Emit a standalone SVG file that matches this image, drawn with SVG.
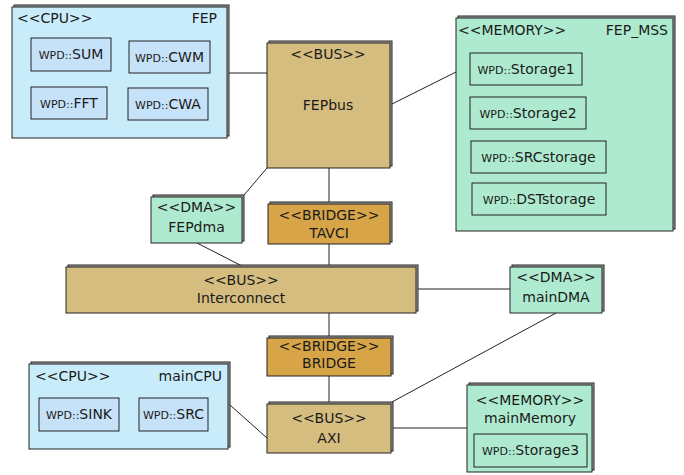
<svg xmlns="http://www.w3.org/2000/svg" width="684" height="475" viewBox="0 0 684 475">
<style>
text{font-family:"DejaVu Sans","Liberation Sans",sans-serif;font-size:14px;fill:#1a1a1a}
.s{font-size:11px}
.back{fill:#a8a8a8;stroke:#222;stroke-width:1}
.cpu{fill:#c9ecfb;stroke:#222;stroke-width:1}
.inner{fill:#c6e2f8;stroke:#222;stroke-width:1}
.bus{fill:#d5bd80;stroke:#222;stroke-width:1}
.bridge{fill:#d7a548;stroke:#222;stroke-width:1}
.mem{fill:#aeeacf;stroke:#222;stroke-width:1}
.mi{fill:#aeeacf;stroke:#222;stroke-width:1}
.c line{stroke:#222;stroke-width:1}
.m{text-anchor:middle}
.e{text-anchor:end}
</style>
<rect width="684" height="475" fill="#fff"/>
<g class="c" id="connectors">
<line x1="229" y1="73" x2="267" y2="73"/>
<line x1="392" y1="104" x2="456" y2="72"/>
<line x1="267" y1="168" x2="244" y2="195"/>
<line x1="329" y1="168" x2="329" y2="202"/>
<line x1="197" y1="243" x2="242" y2="266"/>
<line x1="329" y1="244" x2="329" y2="266"/>
<line x1="418" y1="289" x2="510" y2="289"/>
<line x1="329" y1="313" x2="329" y2="336"/>
<line x1="329" y1="376" x2="329" y2="402"/>
<line x1="556" y1="313" x2="392" y2="402"/>
<line x1="393" y1="428" x2="467" y2="428"/>
<line x1="230" y1="405" x2="267" y2="438"/>
</g>
<g id="FEP">
<rect class="back" x="14" y="5" width="215" height="131"/>
<rect class="cpu" x="12" y="7" width="215" height="131"/>
<text x="17" y="23">&lt;&lt;CPU&gt;&gt;</text>
<text x="217" y="23" class="e">FEP</text>
<rect class="inner" x="31" y="38" width="80" height="33"/>
<text x="71" y="59" class="m"><tspan class="s">WPD::</tspan>SUM</text>
<rect class="inner" x="129" y="41" width="81" height="32"/>
<text x="169.5" y="61.5" class="m"><tspan class="s">WPD::</tspan>CWM</text>
<rect class="inner" x="31" y="87" width="76" height="32"/>
<text x="69" y="107.5" class="m"><tspan class="s">WPD::</tspan>FFT</text>
<rect class="inner" x="128" y="88" width="80" height="32"/>
<text x="168" y="108.5" class="m"><tspan class="s">WPD::</tspan>CWA</text>
</g>
<g id="FEPbus">
<rect class="back" x="269" y="41" width="123" height="125"/>
<rect class="bus" x="267" y="43" width="123" height="125"/>
<text x="328" y="59" class="m">&lt;&lt;BUS&gt;&gt;</text>
<text x="328" y="110" class="m">FEPbus</text>
</g>
<g id="FEP_MSS">
<rect class="back" x="458" y="16" width="217" height="213"/>
<rect class="mem" x="456" y="18" width="217" height="213"/>
<text x="458" y="35">&lt;&lt;MEMORY&gt;&gt;</text>
<text x="668" y="35" class="e">FEP_MSS</text>
<rect class="mi" x="470" y="53" width="112" height="32"/>
<text x="526" y="74" class="m"><tspan class="s">WPD::</tspan>Storage1</text>
<rect class="mi" x="470" y="97" width="116" height="32"/>
<text x="528" y="118" class="m"><tspan class="s">WPD::</tspan>Storage2</text>
<rect class="mi" x="471" y="141" width="135" height="32"/>
<text x="538.5" y="162" class="m"><tspan class="s">WPD::</tspan>SRCstorage</text>
<rect class="mi" x="472" y="183" width="134" height="32"/>
<text x="539" y="204" class="m"><tspan class="s">WPD::</tspan>DSTstorage</text>
</g>
<g id="FEPdma">
<rect class="back" x="153" y="195" width="91" height="46"/>
<rect class="mem" x="151" y="197" width="91" height="46"/>
<text x="196.5" y="212" class="m">&lt;&lt;DMA&gt;&gt;</text>
<text x="196.5" y="232" class="m">FEPdma</text>
</g>
<g id="TAVCI">
<rect class="back" x="270" y="202" width="122" height="40"/>
<rect class="bridge" x="268" y="204" width="122" height="40"/>
<text x="329" y="220" class="m">&lt;&lt;BRIDGE&gt;&gt;</text>
<text x="329" y="238" class="m">TAVCI</text>
</g>
<g id="Interconnect">
<rect class="back" x="68" y="265" width="350" height="46"/>
<rect class="bus" x="66" y="267" width="350" height="46"/>
<text x="241" y="285" class="m">&lt;&lt;BUS&gt;&gt;</text>
<text x="241" y="303" class="m">Interconnect</text>
</g>
<g id="mainDMA">
<rect class="back" x="512" y="265" width="92" height="46"/>
<rect class="mem" x="510" y="267" width="92" height="46"/>
<text x="556" y="282" class="m">&lt;&lt;DMA&gt;&gt;</text>
<text x="556" y="302" class="m">mainDMA</text>
</g>
<g id="BRIDGE">
<rect class="back" x="269" y="336" width="124" height="38"/>
<rect class="bridge" x="267" y="338" width="124" height="38"/>
<text x="329" y="351" class="m">&lt;&lt;BRIDGE&gt;&gt;</text>
<text x="329" y="368" class="m">BRIDGE</text>
</g>
<g id="AXI">
<rect class="back" x="269" y="402" width="124" height="49"/>
<rect class="bus" x="267" y="404" width="124" height="49"/>
<text x="329" y="423" class="m">&lt;&lt;BUS&gt;&gt;</text>
<text x="329" y="443" class="m">AXI</text>
</g>
<g id="mainCPU">
<rect class="back" x="31" y="362" width="199" height="85"/>
<rect class="cpu" x="29" y="364" width="199" height="85"/>
<text x="35" y="381">&lt;&lt;CPU&gt;&gt;</text>
<text x="222" y="381" class="e">mainCPU</text>
<rect class="inner" x="39" y="398" width="80" height="33"/>
<text x="79" y="419" class="m"><tspan class="s">WPD::</tspan>SINK</text>
<rect class="inner" x="139" y="398" width="69" height="33"/>
<text x="173.5" y="419" class="m"><tspan class="s">WPD::</tspan>SRC</text>
</g>
<g id="mainMemory">
<rect class="back" x="469" y="383" width="125" height="87"/>
<rect class="mem" x="467" y="385" width="125" height="87"/>
<text x="530" y="405" class="m">&lt;&lt;MEMORY&gt;&gt;</text>
<text x="530" y="423" class="m">mainMemory</text>
<rect class="mi" x="474" y="434" width="113" height="33"/>
<text x="530.5" y="455" class="m"><tspan class="s">WPD::</tspan>Storage3</text>
</g>
</svg>
